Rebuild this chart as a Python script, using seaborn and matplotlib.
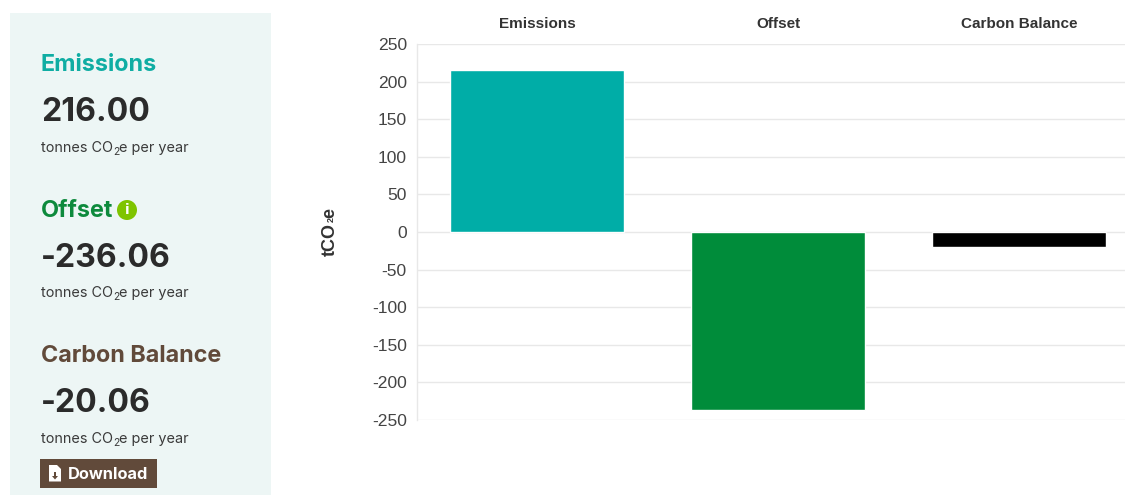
import matplotlib
matplotlib.use("Agg")
import matplotlib.pyplot as plt
from matplotlib.patches import Rectangle, Circle, Polygon
import pandas as pd
import seaborn as sns

categories = ["Emissions", "Offset", "Carbon Balance"]
values = [216.00, -236.06, -20.06]
bar_colors = ["#00ada7", "#008c3a", "#000000"]
y_ticks = [250, 200, 150, 100, 50, 0, -50, -100, -150, -200, -250]
panel_titles = ["Emissions", "Offset", "Carbon Balance"]
panel_title_colors = ["#0fada3", "#0d8a3c", "#614a3a"]
panel_values = ["216.00", "-236.06", "-20.06"]

W, H = 1125, 495
sns.set_theme(style="white")
plt.rcParams["font.family"] = ["Liberation Sans", "DejaVu Sans"]

fig = plt.figure(figsize=(W / 100, H / 100), dpi=100, facecolor="white")

# Bar chart, with the right side of the last category band cut by the page edge
L, R, T, B = 416.5, 1125, 44, 420
ax = fig.add_axes([L / W, 1 - B / H, (R - L) / W, (B - T) / H])
df = pd.DataFrame({"category": categories, "value": values})
sns.barplot(data=df, x="category", y="value", hue="category", hue_order=categories,
            palette=bar_colors, width=0.72, saturation=1, legend=False, ax=ax, zorder=3)
ax.set_ylim(-250, 250)
ax.set_xlim(-0.5, 2.44)
ax.set_yticks(y_ticks)
ax.set_yticklabels([str(v) for v in y_ticks], fontsize=12.6, color="#444444")
ax.yaxis.grid(True, color="#e8e8e8", linewidth=1)
ax.xaxis.grid(False)
ax.set_axisbelow(True)
ax.set_xlabel("")
ax.set_ylabel("")
ax.xaxis.tick_top()
ax.set_xticks(range(len(categories)))
ax.set_xticklabels(categories, fontsize=11, fontweight="bold", color="#333333")
ax.tick_params(axis="x", length=0, pad=9.5)
ax.tick_params(axis="y", length=0, pad=7)
for side in ["top", "right", "bottom"]:
    ax.spines[side].set_visible(False)
ax.spines["left"].set_color("#e8e8e8")
ax.spines["left"].set_linewidth(1)

# Summary panel drawn on a pixel-addressed overlay
ov = fig.add_axes([0, 0, 1, 1], facecolor="none")
ov.set_xlim(0, W)
ov.set_ylim(H, 0)
ov.axis("off")
ov.add_patch(Rectangle((10, 13), 261, 482, facecolor="#edf6f5", edgecolor="none"))


def run(x, y, parts, **common):
    """Draw text pieces left to right on one baseline; each is (text, size, dy)."""
    rend = fig.canvas.get_renderer()
    for s, size, dy in parts:
        t = ov.text(x, y + dy, s, fontsize=size, va="baseline", ha="left", **common)
        x = t.get_window_extent(rend).x1


panel_font = ["Inter", "DejaVu Sans"]
title_y = [71, 217, 362]
value_y = [121, 267, 412]
unit_y = [152, 297, 443]
for i in range(3):
    ov.text(41, title_y[i], panel_titles[i], color=panel_title_colors[i], fontsize=16.8,
            fontweight="bold", family=panel_font, va="baseline")
    ov.text(41, value_y[i], panel_values[i], color="#2b2b2b", fontsize=23,
            fontweight="bold", family=panel_font, va="baseline")
    run(41, unit_y[i],
        [("tonnes CO", 10.4, 0), ("2", 7.5, 3), ("e per year", 10.4, 0)],
        color="#3a3a3a", family=panel_font)

# Info badge next to the Offset heading
ov.add_patch(Circle((127, 210), 10, facecolor="#7fc400", edgecolor="none"))
ov.text(127, 210.5, "i", color="white", fontsize=10, fontweight="bold",
        family="DejaVu Sans", ha="center", va="center")

# Download button with its file icon
ov.add_patch(Rectangle((40, 459), 117, 29, facecolor="#614a3a", edgecolor="none"))
ov.add_patch(Polygon([(49, 465), (57, 465), (61, 469), (61, 481.5), (49, 481.5)],
                     facecolor="white", edgecolor="none"))
ov.add_patch(Polygon([(54, 472), (56, 472), (56, 476), (58, 476), (55, 479.5), (52, 476), (54, 476)],
                     facecolor="#614a3a", edgecolor="none"))
ov.text(68, 479, "Download", color="white", fontsize=11.8, fontweight="bold",
        family=["Inter", "DejaVu Sans"], va="baseline")

# Rotated axis title with a small subscript, placed end to end
title_style = dict(rotation=90, fontweight="bold", color="#333333", ha="center", va="bottom")
ov.text(330, 256, "tCO", fontsize=13, **title_style)
ov.text(331.5, 222.5, "2", fontsize=6.5, **title_style)
ov.text(330, 218, "e", fontsize=13, **title_style)

fig.savefig("out.png", dpi=100)
